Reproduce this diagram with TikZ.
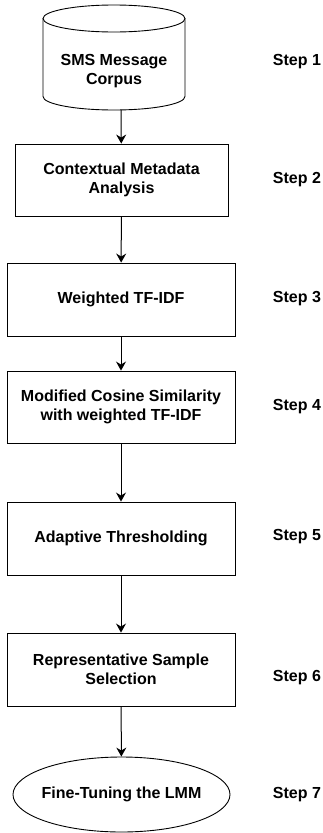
\documentclass[tikz,border=0pt]{standalone}
\usepackage{fontspec}
\setmainfont{Liberation Sans}
\usetikzlibrary{shapes.geometric,arrows.meta}
\tikzset{
  stepbox/.style={draw, line width=0.9pt, minimum width=228pt, minimum height=73pt, align=center, font=\bfseries\fontsize{16}{18.5}\selectfont},
  steplabel/.style={font=\bfseries\fontsize{16}{18}\selectfont}
}
\begin{document}
\begin{tikzpicture}[x=1pt,y=-1pt]
      \useasboundingbox (0,0) rectangle (322,833);
      % corpus drum
      \draw[line width=0.9pt] (43,18.5) -- (43,96.5) arc[start angle=180, end angle=360, x radius=71pt, y radius=13.5pt] -- (185,18.5);
      \draw[line width=0.9pt] (114,18.5) ellipse[x radius=71pt, y radius=13.5pt];
      \coordinate (c1) at (121,109.9);
      \draw
        (114,71) node[align=center, font=\bfseries\fontsize{16}{18.5}\selectfont] (1){SMS Message\\Corpus}
        (121.5,180) node[stepbox, minimum width=213pt, minimum height=72pt] (2){Contextual Metadata\\Analysis}
        (121,299.5) node[stepbox] (3){Weighted TF-IDF}
        (121,407) node[stepbox, minimum height=72pt] (4){Modified Cosine Similarity\\with weighted TF-IDF}
        (121,538.5) node[stepbox] (5){Adaptive Thresholding}
        (121,669.5) node[stepbox] (6){Representative Sample\\Selection}
        (121.5,794.5) node[ellipse, draw, line width=0.9pt, minimum width=217pt, minimum height=75pt,
          label={[font=\bfseries\fontsize{16}{18.5}\selectfont]center:Fine-Tuning the LMM}] (7){};
      \draw
        (297,62) node[steplabel] (s1){Step 1}
        (297,180) node[steplabel] (s2){Step 2}
        (297,299) node[steplabel] (s3){Step 3}
        (297,407) node[steplabel] (s4){Step 4}
        (297,537) node[steplabel] (s5){Step 5}
        (297,678) node[steplabel] (s6){Step 6}
        (297,795) node[steplabel] (s7){Step 7};
      \begin{scope}[-{Stealth[length=9pt,width=10pt,inset=3pt]}, line width=1pt]
        \draw (c1) to (2);
        \draw (2) to (3);
        \draw (3) to (4);
        \draw (4) to (5);
        \draw (5) to (6);
        \draw (6) to (7);
      \end{scope}
    \end{tikzpicture}
\end{document}
